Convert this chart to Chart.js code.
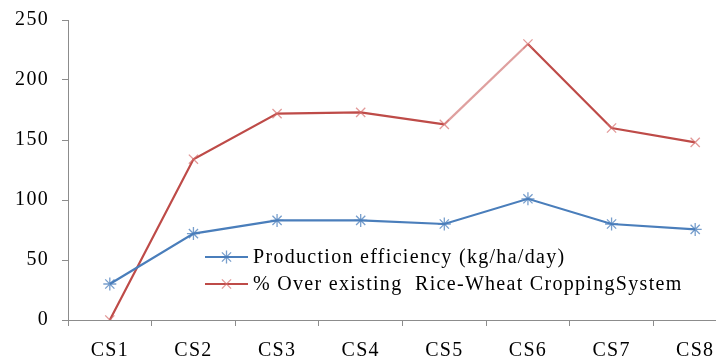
<!DOCTYPE html>
<html>
<head>
<meta charset="utf-8">
<script src="https://cdn.jsdelivr.net/npm/chart.js@4/dist/chart.umd.min.js"></script>
<style>
  html, body { margin: 0; padding: 0; background: #fff; overflow: hidden; }
  #wrap { position: relative; width: 716px; height: 358px; overflow: hidden; background: #fff; }
  #c { position: absolute; left: 0; top: -5px; }
</style>
</head>
<body>
<div id="wrap"><canvas id="c" width="750" height="380"></canvas></div>
<script>
const categories = ['CS1', 'CS2', 'CS3', 'CS4', 'CS5', 'CS6', 'CS7', 'CS8'];
const productionEfficiency = [30, 72, 83, 83, 80, 101, 80, 75.5];
const overExisting = [0, 134, 172, 173, 163, 230, 160, 148];
const yTicks = [0, 50, 100, 150, 200, 250];
const seriesNames = ['Production efficiency (kg/ha/day)', '% Over existing  Rice-Wheat CroppingSystem'];

const FONT = "'Liberation Serif', 'Times New Roman', serif";
const AXIS = '#8c8c8c';
const SPACING = '1.3px';

const letterSpacingPlugin = {
  id: 'letterSpacing',
  beforeDraw(chart) { chart.ctx.letterSpacing = SPACING; }
};

const insideLegend = {
  id: 'insideLegend',
  afterDatasetsDraw(chart) {
    const ctx = chart.ctx;
    const ca = chart.chartArea;
    const x0 = ca.left + 137;
    const rows = [ca.top + 237, ca.top + 264];
    ctx.save();
    chart.data.datasets.forEach((ds, i) => {
      const y = rows[i];
      ctx.strokeStyle = ds.borderColor;
      ctx.lineWidth = 2.2;
      ctx.beginPath();
      ctx.moveTo(x0, y);
      ctx.lineTo(x0 + 43, y);
      ctx.stroke();
      ctx.strokeStyle = ds.pointBorderColor;
      ctx.lineWidth = ds.pointBorderWidth;
      Chart.helpers.drawPoint(ctx, {
        pointStyle: ds.pointStyle, radius: ds.pointRadius, rotation: 0,
        borderWidth: ds.pointBorderWidth
      }, x0 + 21.5, y);
      ctx.fillStyle = '#000';
      ctx.font = '20px ' + FONT;
      ctx.letterSpacing = SPACING;
      ctx.textBaseline = 'middle';
      ctx.textAlign = 'left';
      ctx.fillText(ds.label, x0 + 48, y + 1);
    });
    ctx.restore();
  }
};

new Chart(document.getElementById('c'), {
  type: 'line',
  data: {
    labels: categories,
    datasets: [
      {
        label: seriesNames[0],
        data: productionEfficiency,
        borderColor: '#4a7ebb',
        borderWidth: 2.2,
        pointStyle: 'star',
        pointRadius: 6.5,
        pointBorderWidth: 1.3,
        pointBorderColor: 'rgba(74,126,187,0.75)',
        pointBackgroundColor: 'rgba(0,0,0,0)',
        tension: 0
      },
      {
        label: seriesNames[1],
        data: overExisting,
        borderColor: '#be4b48',
        borderWidth: 2.2,
        pointStyle: 'crossRot',
        pointRadius: 6.5,
        pointBorderWidth: 1.3,
        pointBorderColor: 'rgba(214,110,108,0.7)',
        pointBackgroundColor: 'rgba(0,0,0,0)',
        segment: {
          borderColor: c => (c.p0DataIndex === 4 ? 'rgba(210,120,118,0.7)' : undefined)
        },
        tension: 0
      }
    ]
  },
  options: {
    responsive: false,
    animation: false,
    devicePixelRatio: 1,
    layout: { padding: { top: 13, right: 13, left: 0, bottom: 0 } },
    plugins: { legend: { display: false }, tooltip: { enabled: false } },
    scales: {
      x: {
        type: 'category',
        offset: true,
        grid: { display: true, drawOnChartArea: false, drawTicks: true, tickLength: 6, color: AXIS, offset: true },
        border: { display: true, color: AXIS, width: 1 },
        ticks: { color: '#000', font: { family: FONT, size: 20 }, padding: 13, maxRotation: 0, autoSkip: false },
        afterFit(s) { s.height = 55; }
      },
      y: {
        min: 0,
        max: 250,
        afterBuildTicks(s) { s.ticks = yTicks.map(v => ({ value: v })); },
        grid: { display: true, drawOnChartArea: false, drawTicks: true, tickLength: 6, color: AXIS },
        border: { display: true, color: AXIS, width: 1 },
        ticks: { color: '#000', font: { family: FONT, size: 20 }, padding: 13 },
        afterFit(s) { s.width = 68; }
      }
    }
  },
  plugins: [letterSpacingPlugin, insideLegend]
});
</script>
</body>
</html>
